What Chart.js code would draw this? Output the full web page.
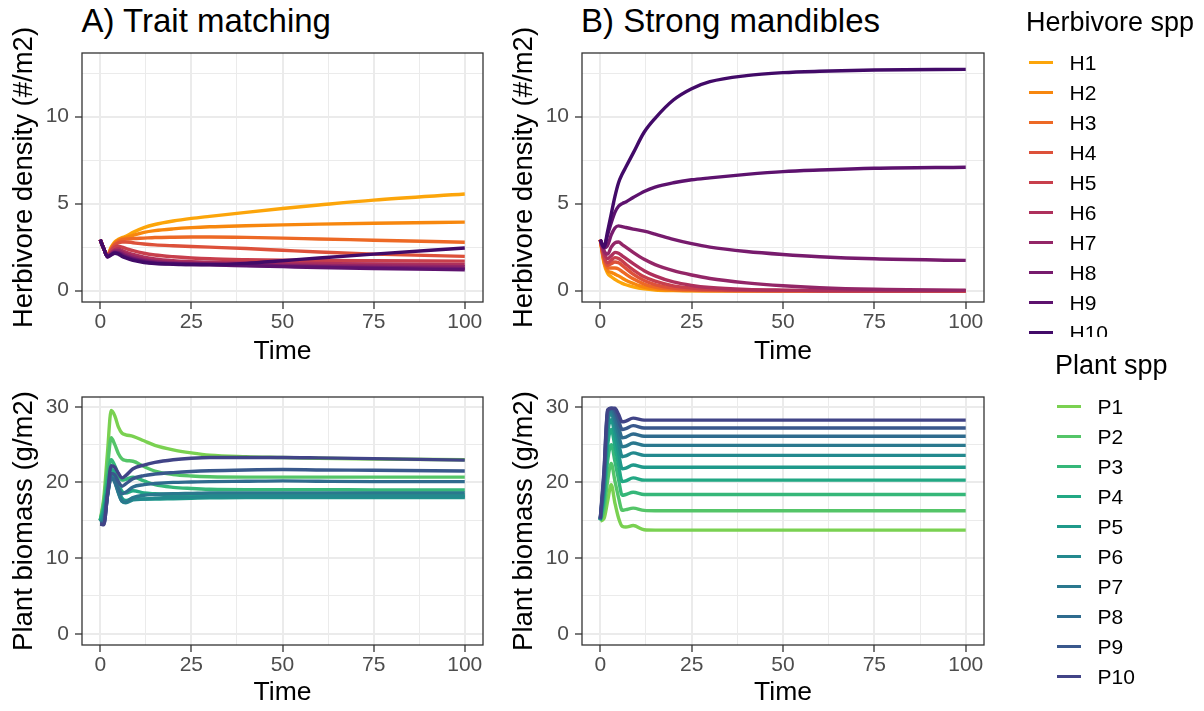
<!DOCTYPE html>
<html>
<head>
<meta charset="UTF-8">
<title>Herbivore and plant dynamics</title>
<script src="https://cdn.jsdelivr.net/npm/chart.js@4.4.0/dist/chart.umd.min.js"></script>
<style>
    body { margin: 0; background: #fff; font-family: 'Liberation Sans', Arial, sans-serif; }
    #wrap { position: relative; width: 1204px; height: 711px; overflow: hidden; background: #fff; }
    canvas { position: absolute; }
    .ptitle { position: absolute; font-size: 33px; line-height: 1; color: #000; white-space: nowrap; }
    .ltitle { position: absolute; font-size: 27px; line-height: 1; color: #000; white-space: nowrap; }
    .lab { position: absolute; font-size: 21px; line-height: 30px; color: #000; white-space: nowrap; }
    .key { position: absolute; width: 24px; height: 3.5px; }
    .clip { position: absolute; left: 0; top: 0; width: 1204px; overflow: hidden; }
</style>
</head>
<body>
<div id="wrap">
    <div class="ptitle" style="left:81.5px; top:4px;">A) Trait matching</div>
    <div class="ptitle" style="left:581px; top:4px;">B) Strong mandibles</div>
</div>
<script>
    // time points of the simulation output
    var time = [0, 1, 2, 3, 4, 5, 6, 7, 9, 12, 15, 20, 25, 30, 40, 50, 60, 75, 100];

    var herbNames = ['H1', 'H2', 'H3', 'H4', 'H5', 'H6', 'H7', 'H8', 'H9', 'H10'];
    var plantNames = ['P1', 'P2', 'P3', 'P4', 'P5', 'P6', 'P7', 'P8', 'P9', 'P10'];
    var herbColors = ['#FCA50A', '#F7870E', '#ED6925', '#DD513A', '#C83F4C', '#AE305C', '#932667', '#771B6D', '#5D126E', '#420A68'];
    var plantColors = ['#7AD151', '#54C568', '#35B779', '#22A884', '#1F998A', '#23898E', '#2A788E', '#2F6B8E', '#39588C', '#414487'];

    // herbivore density, trait matching (H1..H10)
    var herbTrait = [
        [2.93, 2.4, 2.05, 2.5, 2.8, 2.95, 3.05, 3.12, 3.35, 3.62, 3.8, 4.0, 4.15, 4.27, 4.5, 4.72, 4.92, 5.2, 5.55],
        [2.93, 2.4, 2.02, 2.45, 2.75, 2.9, 3.0, 3.05, 3.18, 3.35, 3.45, 3.55, 3.62, 3.67, 3.73, 3.78, 3.82, 3.87, 3.94],
        [2.93, 2.4, 2.0, 2.4, 2.7, 2.85, 2.93, 2.96, 2.99, 3.02, 3.05, 3.07, 3.08, 3.08, 3.06, 3.02, 2.97, 2.9, 2.78],
        [2.93, 2.4, 1.99, 2.35, 2.62, 2.75, 2.8, 2.8, 2.75, 2.68, 2.63, 2.58, 2.54, 2.5, 2.42, 2.32, 2.22, 2.1, 1.97],
        [2.93, 2.4, 1.98, 2.3, 2.5, 2.55, 2.5, 2.43, 2.3, 2.15, 2.05, 1.95, 1.88, 1.83, 1.78, 1.75, 1.73, 1.72, 1.7],
        [2.93, 2.4, 1.97, 2.2, 2.35, 2.4, 2.3, 2.22, 2.08, 1.93, 1.82, 1.72, 1.67, 1.64, 1.6, 1.58, 1.56, 1.53, 1.5],
        [2.93, 2.4, 1.96, 2.15, 2.28, 2.3, 2.2, 2.1, 1.96, 1.8, 1.7, 1.62, 1.58, 1.56, 1.52, 1.48, 1.45, 1.42, 1.38],
        [2.93, 2.4, 1.95, 2.1, 2.22, 2.2, 2.1, 2.0, 1.86, 1.72, 1.63, 1.56, 1.53, 1.51, 1.46, 1.42, 1.38, 1.33, 1.28],
        [2.93, 2.4, 1.95, 2.07, 2.18, 2.15, 2.02, 1.93, 1.8, 1.66, 1.58, 1.53, 1.5, 1.48, 1.43, 1.38, 1.33, 1.27, 1.2],
        [2.93, 2.4, 1.95, 2.05, 2.15, 2.1, 1.97, 1.88, 1.74, 1.62, 1.56, 1.52, 1.5, 1.5, 1.57, 1.72, 1.88, 2.1, 2.45]
    ];

    // herbivore density, strong mandibles
    var herbMandible = [
        [2.93, 1.6, 1.0, 0.8, 0.65, 0.52, 0.42, 0.34, 0.22, 0.1, 0.04, 0.01, 0, 0, 0, 0, 0, 0, 0],
        [2.93, 1.7, 1.15, 1.05, 0.95, 0.85, 0.72, 0.6, 0.42, 0.2, 0.1, 0.03, 0.01, 0, 0, 0, 0, 0, 0],
        [2.93, 1.8, 1.3, 1.3, 1.3, 1.25, 1.1, 0.95, 0.68, 0.38, 0.2, 0.07, 0.03, 0.01, 0, 0, 0, 0, 0],
        [2.93, 1.9, 1.45, 1.55, 1.65, 1.6, 1.45, 1.28, 0.95, 0.58, 0.35, 0.15, 0.07, 0.03, 0.01, 0, 0, 0, 0],
        [2.93, 2.0, 1.6, 1.75, 1.9, 1.85, 1.7, 1.52, 1.2, 0.8, 0.55, 0.28, 0.15, 0.08, 0.02, 0.01, 0, 0, 0],
        [2.93, 2.2, 1.85, 2.0, 2.2, 2.15, 2.0, 1.85, 1.55, 1.15, 0.85, 0.5, 0.3, 0.18, 0.07, 0.03, 0.01, 0, 0],
        [2.93, 2.3, 2.1, 2.5, 2.75, 2.8, 2.65, 2.5, 2.2, 1.8, 1.5, 1.15, 0.9, 0.7, 0.45, 0.28, 0.17, 0.08, 0.03],
        [2.93, 2.45, 2.6, 3.2, 3.6, 3.72, 3.68, 3.63, 3.54, 3.42, 3.25, 2.95, 2.7, 2.5, 2.25, 2.08, 1.95, 1.83, 1.74],
        [2.93, 2.5, 3.2, 3.9, 4.5, 4.85, 5.0, 5.1, 5.35, 5.7, 5.95, 6.2, 6.37, 6.48, 6.68, 6.84, 6.93, 7.03, 7.09],
        [2.93, 2.5, 3.4, 4.4, 5.4, 6.2, 6.7, 7.1, 7.9, 9.1, 9.9, 10.95, 11.6, 12.0, 12.35, 12.52, 12.6, 12.67, 12.71]
    ];

    // plant biomass, trait matching (P1..P10)
    var plantTrait = [
        [15, 18, 24, 29.5, 28.8, 27.3, 26.5, 26.3, 26.1, 25.5, 24.9, 24.3, 23.9, 23.6, 23.4, 23.3, 23.2, 23.1, 23.0],
        [15, 17.5, 22, 25.9, 25, 23.8, 23.1, 22.9, 22.8, 22.1, 21.5, 21.05, 20.85, 20.75, 20.7, 20.7, 20.7, 20.7, 20.7],
        [15, 17, 20.5, 23, 22.2, 21, 20.3, 20.4, 20.7, 20.2, 19.7, 19.35, 19.2, 19.1, 19.05, 19.05, 19.05, 19.0, 19.0],
        [15, 16.5, 19.5, 21.8, 21.2, 19.8, 18.8, 18.6, 18.9, 18.6, 18.5, 18.4, 18.35, 18.3, 18.3, 18.3, 18.3, 18.3, 18.3],
        [14.9, 16, 19, 21, 20.4, 19, 17.9, 17.6, 17.9, 17.8, 17.8, 17.85, 17.9, 17.95, 18, 18, 18, 18, 18],
        [14.8, 15.5, 18.5, 20.8, 20.1, 18.6, 17.5, 17.3, 17.7, 17.8, 17.9, 18, 18.05, 18.1, 18.1, 18.1, 18.1, 18.1, 18.1],
        [14.7, 15, 18.3, 20.6, 20, 18.6, 17.5, 17.4, 18.0, 18.3, 18.4, 18.5, 18.55, 18.6, 18.6, 18.6, 18.6, 18.6, 18.6],
        [14.6, 14.7, 18.2, 20.6, 20.2, 19.2, 18.5, 18.7, 19.4, 19.7, 19.85, 20.0, 20.05, 20.1, 20.15, 20.2, 20.15, 20.1, 20.1],
        [14.5, 14.5, 18.3, 21.2, 21, 20.1, 19.5, 19.8, 20.5, 20.9, 21.1, 21.3, 21.45, 21.55, 21.65, 21.7, 21.65, 21.6, 21.5],
        [14.5, 14.4, 18.5, 22.2, 22, 21.2, 20.6, 20.9, 21.8, 22.3, 22.65, 23.0, 23.2, 23.3, 23.3, 23.3, 23.25, 23.15, 22.95]
    ];

    // plant biomass, strong mandibles
    var plantMandible = [
        [14.9, 15.2, 17.5, 19.7, 17.3, 15.3, 14.2, 14.1, 14.3, 13.75, 13.7, 13.7, 13.7, 13.7, 13.7, 13.7, 13.7, 13.7, 13.7],
        [14.95, 16.3, 20.2, 22.5, 20.2, 18.0, 16.3, 16.4, 16.6, 16.3, 16.26, 16.26, 16.26, 16.26, 16.26, 16.26, 16.26, 16.26, 16.26],
        [15.0, 17.5, 22.8, 25.0, 22.8, 20.4, 18.3, 18.4, 18.7, 18.4, 18.4, 18.4, 18.4, 18.4, 18.4, 18.4, 18.4, 18.4, 18.4],
        [15.0, 18.3, 24.8, 27.0, 24.8, 22.3, 20.1, 20.2, 20.6, 20.3, 20.3, 20.3, 20.3, 20.3, 20.3, 20.3, 20.3, 20.3, 20.3],
        [15.05, 19.0, 26.3, 28.3, 26.3, 23.9, 21.8, 21.9, 22.3, 22.0, 22.0, 22.0, 22.0, 22.0, 22.0, 22.0, 22.0, 22.0, 22.0],
        [15.1, 19.5, 27.5, 29.1, 27.4, 25.3, 23.4, 23.5, 23.9, 23.57, 23.57, 23.57, 23.57, 23.57, 23.57, 23.57, 23.57, 23.57, 23.57],
        [15.1, 20.0, 28.3, 29.5, 28.3, 26.4, 24.7, 24.8, 25.2, 24.9, 24.9, 24.9, 24.9, 24.9, 24.9, 24.9, 24.9, 24.9, 24.9],
        [15.15, 20.5, 29.0, 29.7, 29.0, 27.4, 25.9, 26.0, 26.4, 26.1, 26.1, 26.1, 26.1, 26.1, 26.1, 26.1, 26.1, 26.1, 26.1],
        [15.2, 21.0, 29.4, 29.8, 29.5, 28.2, 27.0, 27.1, 27.5, 27.2, 27.2, 27.2, 27.2, 27.2, 27.2, 27.2, 27.2, 27.2, 27.2],
        [15.2, 21.5, 29.6, 29.8, 29.8, 29.0, 28.0, 28.1, 28.5, 28.24, 28.24, 28.24, 28.24, 28.24, 28.24, 28.24, 28.24, 28.24, 28.24]
    ];

    // axis ticks (major ones get labels)
    var timeTicks = [0, 25, 50, 75, 100];
    var timeMinor = [12.5, 37.5, 62.5, 87.5];
    var herbTicks = [0, 5, 10];
    var herbMinor = [2.5, 7.5, 12.5];
    var plantTicks = [0, 10, 20, 30];
    var plantMinor = [5, 15, 25];

    Chart.defaults.font.family = "'Liberation Sans', Arial, sans-serif";

    // ggplot style box round the panel
    var panelBorder = {
        id: 'panelBorder',
        afterDatasetsDraw: function(chart) {
            var a = chart.chartArea, c = chart.ctx;
            c.save();
            c.strokeStyle = '#333333';
            c.lineWidth = 1.3;
            c.strokeRect(a.left, a.top, a.right - a.left, a.bottom - a.top);
            c.restore();
        }
    };

    // y title drawn by hand so chart.js does not squeeze it to the axis height
    var yTitlePlugin = {
        id: 'yTitle',
        afterDraw: function(chart, args, opts) {
            var a = chart.chartArea, c = chart.ctx;
            c.save();
            c.translate(31.5, (a.top + a.bottom) / 2);
            c.rotate(-Math.PI / 2);
            c.font = "27.5px 'Liberation Sans', Arial, sans-serif";
            c.fillStyle = '#000';
            c.textAlign = 'center';
            c.textBaseline = 'alphabetic';
            c.fillText(opts.text, 0, 0);
            c.restore();
        }
    };

    function isMinor(ctx, minor) {
        return ctx.tick && minor.indexOf(ctx.tick.value) >= 0;
    }

    function gridOpts(minor) {
        return {
            color: '#EBEBEB',
            lineWidth: function(ctx) { return isMinor(ctx, minor) ? 1 : 2; },
            tickLength: 7,
            tickColor: function(ctx) { return isMinor(ctx, minor) ? 'rgba(0,0,0,0)' : '#333333'; },
            tickWidth: 1.3
        };
    }

    function makePanel(left, top, w, h, series, names, colors, yTitle, yMin, yMax, yMajor, yMinor, padTop, padRight, xHeight) {
        var canvas = document.createElement('canvas');
        canvas.width = w;
        canvas.height = h;
        canvas.style.left = left + 'px';
        canvas.style.top = top + 'px';
        document.getElementById('wrap').appendChild(canvas);

        var datasets = series.map(function(vals, i) {
            return {
                label: names[i],
                data: vals.map(function(v, j) { return { x: time[j], y: v }; }),
                borderColor: colors[i],
                backgroundColor: colors[i],
                borderWidth: 3.4,
                pointRadius: 0,
                fill: false,
                cubicInterpolationMode: 'monotone',
                order: names.length - i
            };
        });

        new Chart(canvas, {
            type: 'line',
            data: { datasets: datasets },
            plugins: [panelBorder, yTitlePlugin],
            options: {
                responsive: false,
                animation: false,
                layout: { padding: { top: padTop, right: padRight, left: 0, bottom: 0 } },
                plugins: {
                    legend: { display: false },
                    tooltip: { enabled: false },
                    yTitle: { text: yTitle }
                },
                scales: {
                    x: {
                        type: 'linear',
                        min: -5,
                        max: 105,
                        afterBuildTicks: function(scale) {
                            scale.ticks = timeTicks.concat(timeMinor).sort(function(a, b) { return a - b; })
                                .map(function(v) { return { value: v }; });
                        },
                        afterFit: function(scale) { scale.height = xHeight; },
                        ticks: {
                            autoSkip: false,
                            maxRotation: 0,
                            padding: 1,
                            color: '#4D4D4D',
                            font: { size: 21 },
                            callback: function(v) { return timeTicks.indexOf(v) >= 0 ? String(v) : ''; }
                        },
                        grid: gridOpts(timeMinor),
                        border: { display: false },
                        title: { display: true, text: 'Time', color: '#000', font: { size: 26.5 }, padding: { top: 0, bottom: 2 } }
                    },
                    y: {
                        type: 'linear',
                        min: yMin,
                        max: yMax,
                        afterBuildTicks: function(scale) {
                            scale.ticks = yMajor.concat(yMinor).sort(function(a, b) { return a - b; })
                                .map(function(v) { return { value: v }; });
                        },
                        afterFit: function(scale) { scale.width = 82; },
                        ticks: {
                            autoSkip: false,
                            padding: 6,
                            color: '#4D4D4D',
                            font: { size: 21 },
                            callback: function(v) { return yMajor.indexOf(v) >= 0 ? String(v) : ''; }
                        },
                        grid: gridOpts(yMinor),
                        border: { display: false }
                    }
                }
            }
        });
    }

    makePanel(0, 0, 500, 370, herbTrait, herbNames, herbColors, 'Herbivore density (#/m2)', -0.65, 13.65, herbTicks, herbMinor, 53, 17, 68);
    makePanel(500, 0, 500, 370, herbMandible, herbNames, herbColors, 'Herbivore density (#/m2)', -0.65, 13.65, herbTicks, herbMinor, 53, 16, 68);
    makePanel(0, 370, 500, 341, plantTrait, plantNames, plantColors, 'Plant biomass (g/m2)', -1.49, 31.29, plantTicks, plantMinor, 27, 17, 66);
    makePanel(500, 370, 500, 341, plantMandible, plantNames, plantColors, 'Plant biomass (g/m2)', -1.49, 31.29, plantTicks, plantMinor, 27, 16, 66);

    // legends as plain text blocks
    function makeLegend(title, names, colors, titleLeft, titleTop, keyLeft, labelLeft, firstY, clipHeight) {
        var box = document.createElement('div');
        box.className = 'clip';
        box.style.height = clipHeight + 'px';
        var t = document.createElement('div');
        t.className = 'ltitle';
        t.style.left = titleLeft + 'px';
        t.style.top = titleTop + 'px';
        t.textContent = title;
        box.appendChild(t);
        names.forEach(function(n, i) {
            var cy = firstY + 30 * i;
            var k = document.createElement('div');
            k.className = 'key';
            k.style.left = keyLeft + 'px';
            k.style.top = (cy - 1.75) + 'px';
            k.style.background = colors[i];
            box.appendChild(k);
            var l = document.createElement('div');
            l.className = 'lab';
            l.style.left = labelLeft + 'px';
            l.style.top = (cy - 14.8) + 'px';
            l.textContent = n;
            box.appendChild(l);
        });
        document.getElementById('wrap').appendChild(box);
    }

    makeLegend('Herbivore spp', herbNames, herbColors, 1026, 9, 1029, 1069.5, 62.7, 337);
    makeLegend('Plant spp', plantNames, plantColors, 1055, 352, 1057, 1097.5, 406.7, 711);
</script>
</body>
</html>
